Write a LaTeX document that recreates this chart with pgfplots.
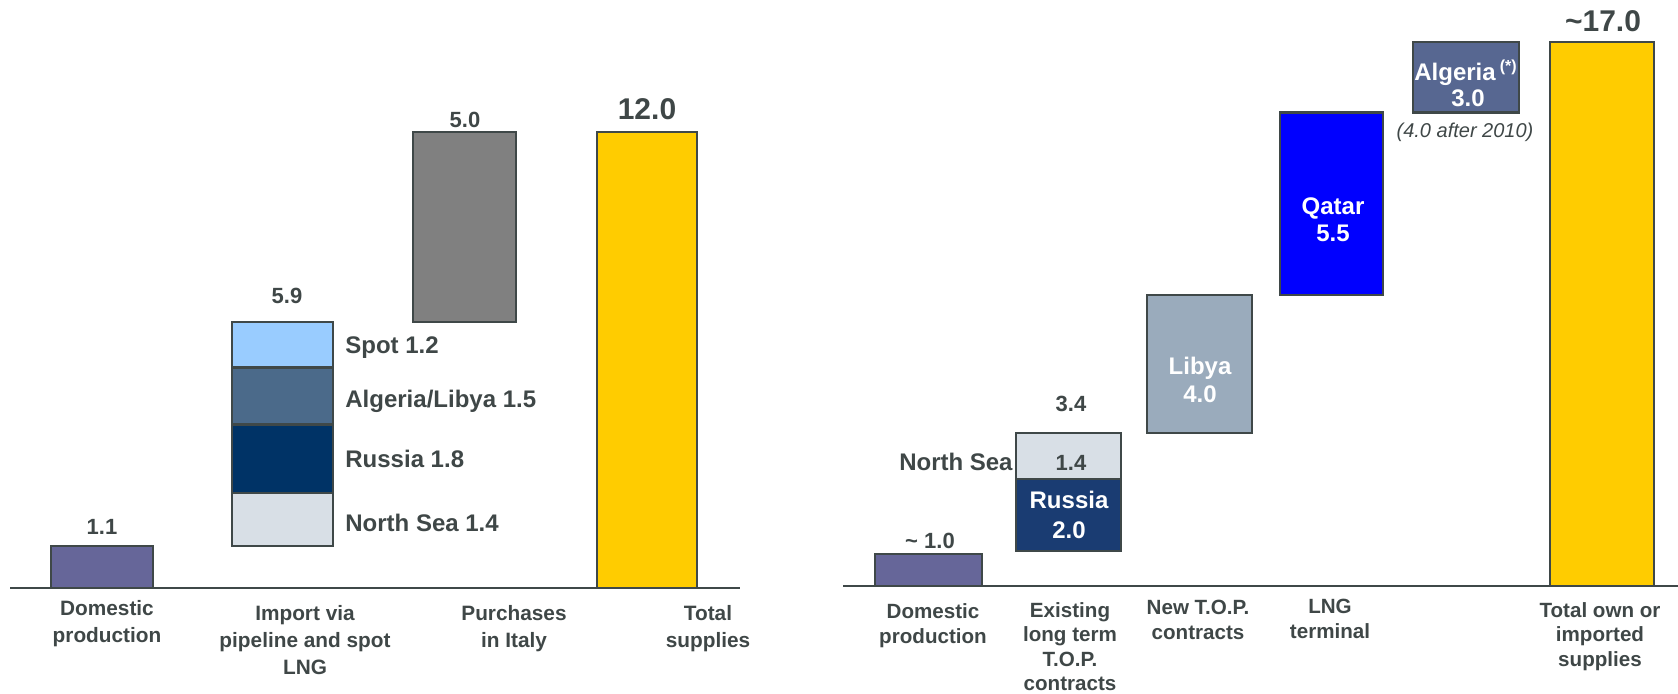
\documentclass[border=0pt]{standalone}
\usepackage{fontspec}
\setmainfont{Liberation Sans}
\usepackage{pgfplots}
\pgfplotsset{compat=1.18}
\definecolor{txt}{HTML}{3F4747}
\definecolor{edge}{HTML}{3F4848}
\definecolor{dompurple}{HTML}{666699}
\definecolor{spot}{HTML}{99CCFF}
\definecolor{alglib}{HTML}{4B6A8A}
\definecolor{russiaL}{HTML}{003366}
\definecolor{northsea}{HTML}{D8DFE6}
\definecolor{purch}{HTML}{808080}
\definecolor{total}{HTML}{FFCC00}
\definecolor{russiaR}{HTML}{1A3C72}
\definecolor{libya}{HTML}{9AABBC}
\definecolor{qatar}{HTML}{0000FF}
\definecolor{algeria}{HTML}{576791}
\newcommand{\wbar}[5]{\addplot[draw=edge, line width=1.25pt, line join=miter, fill=#5] coordinates {(#1,#3) (#2,#3) (#2,#4) (#1,#4)} -- cycle;}
\begin{document}
\begin{tikzpicture}[
  val/.style={anchor=base, inner sep=0pt, text=txt, font=\fontsize{11}{13}\selectfont\bfseries},
  big/.style={anchor=base, inner sep=0pt, text=txt, font=\fontsize{15}{18}\selectfont\bfseries},
  seg/.style={anchor=base west, inner sep=0pt, text=txt, font=\fontsize{12}{14}\selectfont\bfseries},
  catL/.style={anchor=north, inner sep=0pt, align=center, text=txt, font=\fontsize{10.4}{13.5}\selectfont\bfseries},
  catR/.style={anchor=north, inner sep=0pt, align=center, text=txt, font=\fontsize{10.3}{12.2}\selectfont\bfseries},
  inR/.style={anchor=base, inner sep=0pt, text=white, font=\fontsize{12}{14}\selectfont\bfseries}]
\path[use as bounding box] (0,0) rectangle (839pt,346.5pt);
% ---------------- left chart ----------------
\begin{axis}[at={(0,0)}, anchor=south west, scale only axis, width=839pt, height=346.5pt,
  xmin=0, xmax=1678, ymin=-2.76316, ymax=15.47368, hide axis, clip=false]
\wbar{51}{153}{0}{1.1}{dompurple}
\wbar{232}{333}{1.1}{2.5}{northsea}
\wbar{232}{333}{2.5}{4.3}{russiaL}
\wbar{232}{333}{4.3}{5.8}{alglib}
\wbar{232}{333}{5.8}{7.0}{spot}
\wbar{413}{516}{7.0}{12.0}{purch}
\wbar{597}{697}{0}{12.0}{total}
\addplot[draw=edge, line width=1.25pt] coordinates {(10,0) (740,0)};
\node[val] at (axis cs:102,1.395) {1.1};
\node[val] at (axis cs:287,7.5) {5.9};
\node[val] at (axis cs:465,12.13) {5.0};
\node[big] at (axis cs:647,12.316) {12.0};
\node[seg] at (axis cs:345,6.184) {Spot 1.2};
\node[seg] at (axis cs:345,4.763) {Algeria/Libya 1.5};
\node[seg] at (axis cs:345,3.158) {Russia 1.8};
\node[seg] at (axis cs:345,1.474) {North Sea 1.4};
\node[catL] at (axis cs:107,-0.316) {Domestic\\production};
\node[catL] at (axis cs:305,-0.447) {Import via\\pipeline and spot\\LNG};
\node[catL] at (axis cs:514,-0.447) {Purchases\\in Italy};
\node[catL] at (axis cs:708,-0.447) {Total\\supplies};
\end{axis}
% ---------------- right chart ----------------
\begin{axis}[at={(0,0)}, anchor=south west, scale only axis, width=839pt, height=346.5pt,
  xmin=0, xmax=1678, ymin=-3.34375, ymax=18.3125, hide axis, clip=false]
\wbar{875}{982}{0}{1.0}{dompurple}
\wbar{1016}{1121}{1.1}{3.35}{russiaR}
\wbar{1016}{1121}{3.35}{4.78}{northsea}
\wbar{1147}{1252}{4.78}{9.1}{libya}
\wbar{1280}{1383}{9.1}{14.8}{qatar}
\wbar{1413}{1519}{14.8}{17.0}{algeria}
\wbar{1550}{1654}{0}{17.0}{total}
\addplot[draw=edge, line width=1.25pt] coordinates {(843,0) (1678,0)};
\node[val] at (axis cs:930,1.1875) {\textasciitilde\ 1.0};
\node[val] at (axis cs:1071,5.44) {3.4};
\node[anchor=base east, inner sep=0pt, text=txt, font=\fontsize{12}{14}\selectfont\bfseries] at (axis cs:1013,3.625) {North Sea};
\node[val] at (axis cs:1071,3.625) {1.4};
\node[inR] at (axis cs:1069,2.4375) {Russia};
\node[inR] at (axis cs:1069,1.5) {2.0};
\node[inR] at (axis cs:1200,6.594) {Libya};
\node[inR] at (axis cs:1200,5.75) {4.0};
\node[inR] at (axis cs:1333,11.594) {Qatar};
\node[inR] at (axis cs:1333,10.78) {5.5};
\node[inR] at (axis cs:1466,15.81) {Algeria\,\textsuperscript{(*)}};
\node[inR] at (axis cs:1468,14.97) {3.0};
\node[anchor=base, inner sep=0pt, text=txt, font=\fontsize{10}{12}\selectfont\itshape] at (axis cs:1465,14.03) {(4.0 after 2010)};
\node[big] at (axis cs:1603,17.34) {\textasciitilde17.0};
\node[catR] at (axis cs:933,-0.55) {Domestic\\production};
\node[catR] at (axis cs:1070,-0.5) {Existing\\long term\\T.O.P.\\contracts};
\node[catR] at (axis cs:1198,-0.44) {New T.O.P.\\contracts};
\node[catR] at (axis cs:1330,-0.41) {LNG\\terminal};
\node[catR] at (axis cs:1600,-0.5) {Total own or\\imported\\supplies};
\end{axis}
\end{tikzpicture}
\end{document}
